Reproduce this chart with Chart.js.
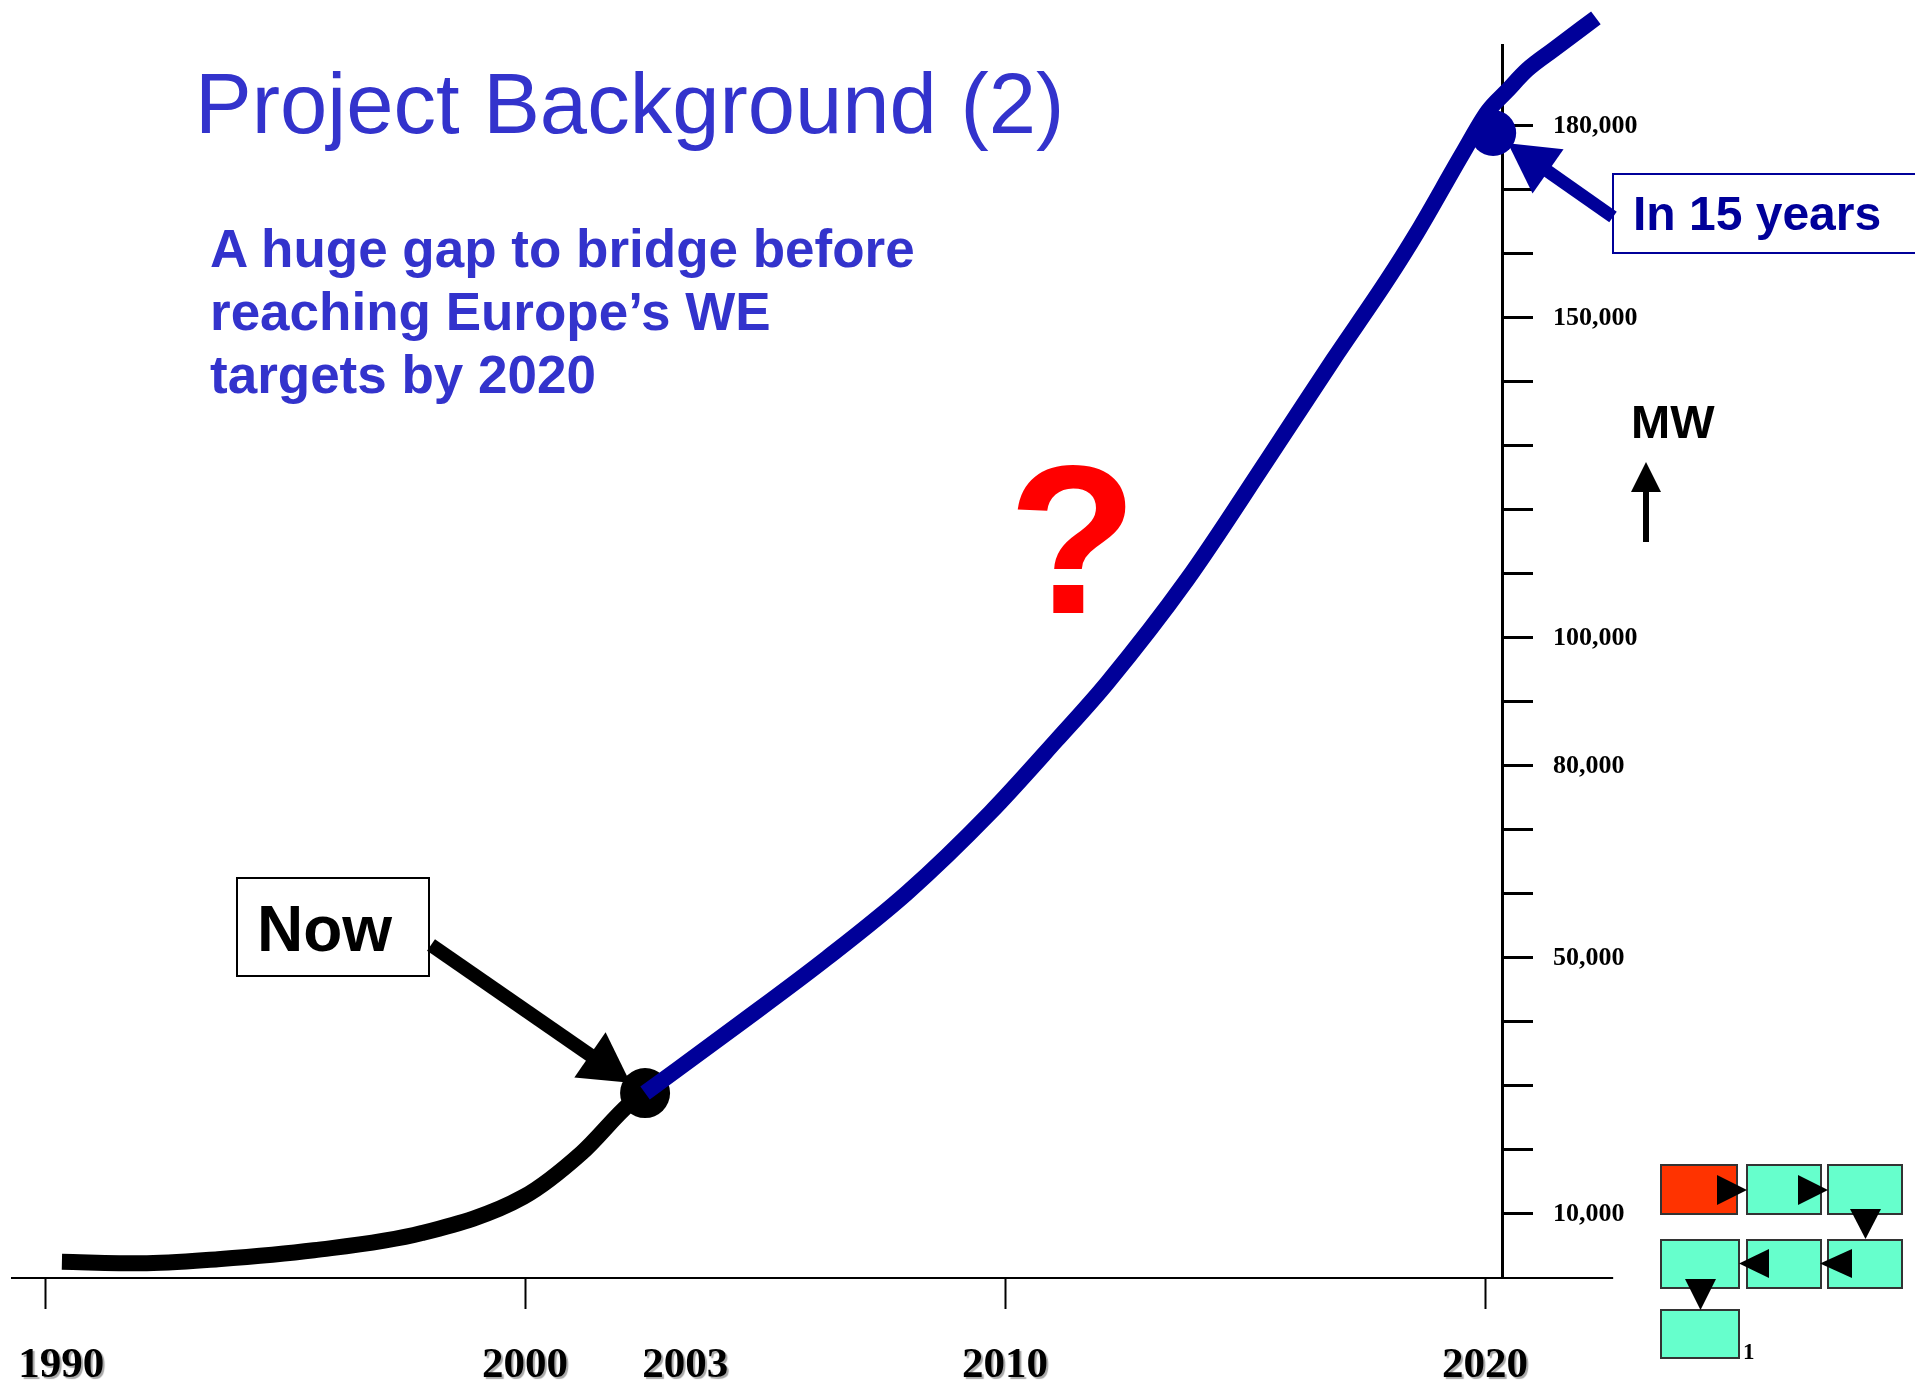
<!DOCTYPE html>
<html>
<head>
<meta charset="utf-8">
<title>Project Background (2)</title>
<script src="https://cdn.jsdelivr.net/npm/chart.js@4.4.1/dist/chart.umd.min.js"></script>
<style>
  html, body { margin: 0; padding: 0; background: #fff; overflow: hidden; }
  #stage { position: relative; width: 1915px; height: 1382px; overflow: hidden; }
  #chart { position: absolute; left: 0; top: 0; }
  .txt { position: absolute; white-space: nowrap; line-height: 1; font-family: "Liberation Sans", Arial, sans-serif; }
  .box { position: absolute; box-sizing: border-box; }
  svg { position: absolute; left: 0; top: 0; }
</style>
</head>
<body>
<div id="stage">
  <canvas id="chart" width="1915" height="1382"></canvas>

  <div class="txt" style="left:195px;top:61px;font-size:85px;color:#3333cc">Project Background (2)</div>
  <div class="txt" style="left:210px;top:217px;font-size:53px;line-height:63px;font-weight:bold;color:#3333cc">A huge gap to bridge before<br>reaching Europe’s WE<br>targets by 2020</div>

  <div class="box" style="left:236px;top:877px;width:194px;height:100px;border:2px solid #000"></div>
  <div class="txt" style="left:257px;top:897px;font-size:64px;font-weight:bold;color:#000">Now</div>

  <div class="box" style="left:1612px;top:173px;width:400px;height:81px;border:2px solid #000099"></div>
  <div class="txt" style="left:1633px;top:190px;font-size:48px;font-weight:bold;color:#000099">In 15 years</div>

  <div class="txt" style="left:1631px;top:398px;font-size:47px;font-weight:bold;color:#000">MW</div>
  <div class="txt" style="left:1008px;top:434px;font-size:212px;font-weight:bold;color:#ff0000">?</div>

  <svg width="1915" height="1382">
    <line x1="1646" y1="490" x2="1646" y2="542" stroke="#000" stroke-width="6"/>
    <polygon points="1631,492 1661,492 1646,462" fill="#000"/>
    <g stroke="#333" stroke-width="2">
      <rect x="1661" y="1165" width="76" height="49" fill="#ff3300"/>
      <rect x="1747" y="1165" width="74" height="49" fill="#66ffcc"/>
      <rect x="1828" y="1165" width="74" height="49" fill="#66ffcc"/>
      <rect x="1661" y="1240" width="78" height="48" fill="#66ffcc"/>
      <rect x="1747" y="1240" width="74" height="48" fill="#66ffcc"/>
      <rect x="1828" y="1240" width="74" height="48" fill="#66ffcc"/>
      <rect x="1661" y="1310" width="78" height="48" fill="#66ffcc"/>
    </g>
    <g fill="#000">
      <polygon points="1717,1175 1717,1205 1747,1190"/>
      <polygon points="1798,1175 1798,1205 1828,1190"/>
      <polygon points="1850,1209 1881,1209 1865.5,1239"/>
      <polygon points="1852,1249 1852,1278 1820,1263.5"/>
      <polygon points="1769,1249 1769,1278 1739,1263.5"/>
      <polygon points="1685,1279 1716,1279 1700.5,1310"/>
    </g>
    <text x="1743" y="1359" font-family="Liberation Serif" font-weight="bold" font-size="23">1</text>
  </svg>
</div>

<script>
// installed wind capacity in Europe, MW
const histYears = [1990.35, 1992.0, 1993.6, 1995.6, 1997.85, 1999.97, 2001.18, 2002.19, 2002.5];
const histMW    = [2540, 2290, 2940, 4330, 7020, 12680, 19550, 27300, 28900];

// projected path to the 2020 target
const projYears = [2002.5, 2004.48, 2006.29, 2007.96, 2009.69, 2011.08, 2012.13, 2013.79, 2015.46,
                   2016.83, 2017.96, 2018.58, 2019.54, 2020.06, 2020.46, 2020.88, 2021.42, 2022.31];
const projMW    = [28900, 39800, 50000, 60200, 72700, 84100, 93000, 109100, 127800,
                   143400, 155900, 163300, 175800, 182300, 185500, 188800, 191900, 196900];

// "Now" and the 2020 target
const milestoneYears  = [2002.5, 2020.17];
const milestoneMW     = [28900, 178900];
const milestoneColors = ['#000', '#000099'];
const milestoneRadius = [25, 23];

const xTickYears     = [1990, 2000, 2003, 2010, 2020];
const xUnmarkedYears = [2003];
const xShiftedLabels = [1990, 2003];
const xRange         = [1989.31, 2020.354];
const xAxisEnd       = 2022.67;

const yTickValues  = [10000, 20000, 30000, 40000, 50000, 60000, 70000, 80000, 90000,
                      100000, 110000, 120000, 130000, 140000, 150000, 160000, 170000, 180000];
const yLabelValues = [10000, 50000, 80000, 100000, 150000, 180000];
const yRange       = [0, 192656];

const NAVY = '#000099';
const nowTail    = [431, 945];
const targetTail = [1613, 217];

function toPoints(xs, ys) {
  return xs.map((x, i) => ({ x, y: ys[i] }));
}

function drawArrow(ctx, from, center, gap, shaft, headLen, headW, color) {
  const dx = center[0] - from[0], dy = center[1] - from[1];
  const len = Math.hypot(dx, dy);
  const ux = dx / len, uy = dy / len;
  const tip = [center[0] - ux * gap, center[1] - uy * gap];
  const base = [tip[0] - ux * headLen, tip[1] - uy * headLen];
  ctx.save();
  ctx.strokeStyle = color;
  ctx.fillStyle = color;
  ctx.lineWidth = shaft;
  ctx.lineCap = 'butt';
  ctx.beginPath();
  ctx.moveTo(from[0], from[1]);
  ctx.lineTo(base[0] + ux * 4, base[1] + uy * 4);
  ctx.stroke();
  ctx.beginPath();
  ctx.moveTo(tip[0], tip[1]);
  ctx.lineTo(base[0] - uy * headW / 2, base[1] + ux * headW / 2);
  ctx.lineTo(base[0] + uy * headW / 2, base[1] - ux * headW / 2);
  ctx.closePath();
  ctx.fill();
  ctx.restore();
}

const annotations = {
  id: 'annotations',
  beforeDraw(chart) {
    // year labels on the slide carry a soft grey drop shadow
    const xs = chart.scales.x;
    if (xs && !xs._shadowed) {
      const orig = xs.drawLabels;
      xs.drawLabels = function (area) {
        const c = this.ctx;
        c.save();
        c.shadowColor = 'rgba(0,0,0,0.35)';
        c.shadowOffsetX = 2;
        c.shadowOffsetY = 2;
        c.shadowBlur = 1;
        orig.call(this, area);
        c.restore();
      };
      xs._shadowed = true;
    }
  },
  afterDraw(chart) {
    const { ctx, chartArea, scales: { x, y } } = chart;
    // x axis runs on past the MW axis
    ctx.save();
    ctx.strokeStyle = '#000';
    ctx.lineWidth = 2;
    ctx.beginPath();
    ctx.moveTo(chartArea.right, Math.round(chartArea.bottom));
    ctx.lineTo(x.getPixelForValue(xAxisEnd), Math.round(chartArea.bottom));
    ctx.stroke();
    ctx.restore();

    const pts = milestoneYears.map((yr, i) => [x.getPixelForValue(yr), y.getPixelForValue(milestoneMW[i])]);
    drawArrow(ctx, nowTail, pts[0], 18, 14, 49, 55, '#000');
    drawArrow(ctx, targetTail, pts[1], 18, 13, 49, 54, NAVY);
  }
};

new Chart(document.getElementById('chart'), {
  type: 'line',
  data: {
    datasets: [
      {
        label: 'Target path',
        data: toPoints(projYears, projMW),
        borderColor: NAVY,
        backgroundColor: NAVY,
        borderWidth: 16,
        borderCapStyle: 'butt',
        cubicInterpolationMode: 'monotone',
        pointRadius: 0,
        clip: false,
        order: 0
      },
      {
        label: 'Milestones',
        data: toPoints(milestoneYears, milestoneMW),
        showLine: false,
        pointRadius: milestoneRadius,
        pointBorderWidth: 0,
        pointBackgroundColor: milestoneColors,
        clip: false,
        order: 1
      },
      {
        label: 'Installed',
        data: toPoints(histYears, histMW),
        borderColor: '#000',
        backgroundColor: '#000',
        borderWidth: 16,
        borderCapStyle: 'butt',
        cubicInterpolationMode: 'monotone',
        pointRadius: 0,
        clip: false,
        order: 2
      }
    ]
  },
  options: {
    responsive: false,
    animation: false,
    events: [],
    layout: { padding: { left: 12, top: 45, right: 0, bottom: 0 }, autoPadding: false },
    plugins: { legend: { display: false }, tooltip: { enabled: false } },
    scales: {
      x: {
        type: 'linear',
        position: 'bottom',
        bounds: 'data',
        afterDataLimits: s => { s.min = xRange[0]; s.max = xRange[1]; },
        afterBuildTicks: s => {
          s.min = xRange[0]; s.max = xRange[1];
          s.ticks = xTickYears.map(v => ({ value: v }));
        },
        afterFit: s => { s.height = 104; s.paddingLeft = 0; s.paddingRight = 0; },
        border: { display: true, color: '#000', width: 2 },
        grid: {
          drawOnChartArea: false,
          drawTicks: true,
          tickLength: 31,
          tickWidth: 2,
          tickColor: ctx => (ctx.tick && xUnmarkedYears.includes(ctx.tick.value) ? 'rgba(0,0,0,0)' : '#000')
        },
        ticks: {
          color: '#000',
          padding: 31,
          maxRotation: 0,
          autoSkip: false,
          font: { family: 'Liberation Serif', size: 43, weight: 'bold' },
          callback: v => (xShiftedLabels.includes(v) ? '   ' : '') + String(v)
        }
      },
      y: {
        type: 'linear',
        position: 'right',
        bounds: 'data',
        afterDataLimits: s => { s.min = yRange[0]; s.max = yRange[1]; },
        afterBuildTicks: s => {
          s.min = yRange[0]; s.max = yRange[1];
          s.ticks = yTickValues.map(v => ({ value: v }));
        },
        afterFit: s => { s.width = 413; s.paddingTop = 0; s.paddingBottom = 0; },
        border: { display: true, color: '#000', width: 3 },
        grid: {
          drawOnChartArea: false,
          drawTicks: true,
          tickLength: 31,
          tickWidth: 3,
          tickColor: '#000'
        },
        ticks: {
          color: '#000',
          padding: 20,
          crossAlign: 'near',
          autoSkip: false,
          font: { family: 'Liberation Serif', size: 26, weight: 'bold' },
          callback: v => (yLabelValues.includes(v) ? v.toLocaleString('en-US') : '')
        }
      }
    }
  },
  plugins: [annotations]
});
</script>
</body>
</html>
